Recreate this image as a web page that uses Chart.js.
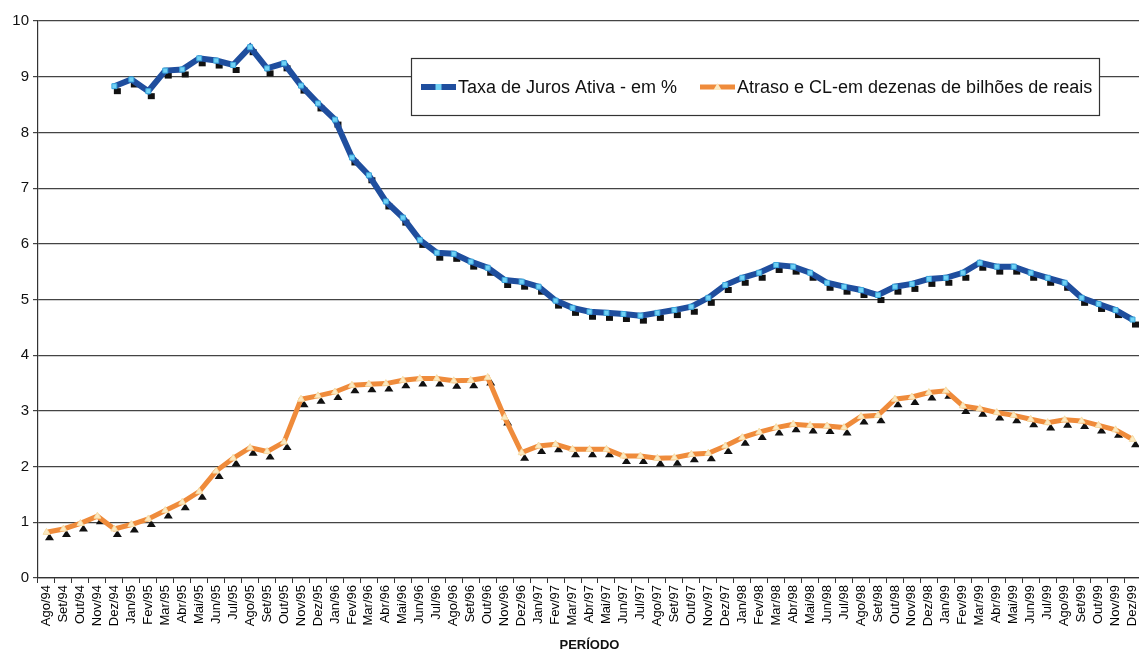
<!DOCTYPE html>
<html>
<head>
<meta charset="utf-8">
<script src="https://cdn.jsdelivr.net/npm/chart.js@4/dist/chart.umd.min.js"></script>
<style>
  html, body { margin: 0; padding: 0; background: #ffffff; overflow: hidden; width: 1139px; height: 654px; }
  #c { display: block; }
</style>
</head>
<body>
<!-- the plot runs past the right edge of the page, which crops the last few pixels -->
<canvas id="c" width="1146" height="654"></canvas>
<script>
// Monthly periods, Aug/1994 to Dec/1999
const periodos = [
  'Ago/94','Set/94','Out/94','Nov/94','Dez/94',
  'Jan/95','Fev/95','Mar/95','Abr/95','Mai/95','Jun/95','Jul/95','Ago/95','Set/95','Out/95','Nov/95','Dez/95',
  'Jan/96','Fev/96','Mar/96','Abr/96','Mai/96','Jun/96','Jul/96','Ago/96','Set/96','Out/96','Nov/96','Dez/96',
  'Jan/97','Fev/97','Mar/97','Abr/97','Mai/97','Jun/97','Jul/97','Ago/97','Set/97','Out/97','Nov/97','Dez/97',
  'Jan/98','Fev/98','Mar/98','Abr/98','Mai/98','Jun/98','Jul/98','Ago/98','Set/98','Out/98','Nov/98','Dez/98',
  'Jan/99','Fev/99','Mar/99','Abr/99','Mai/99','Jun/99','Jul/99','Ago/99','Set/99','Out/99','Nov/99','Dez/99'
];

// Taxa de juros ativa (% ao mês), series begins in Dez/94
const taxaJuros = [
  null, null, null, null, 8.83,
  8.95, 8.74, 9.11, 9.13, 9.33, 9.29, 9.21, 9.53, 9.15, 9.24, 8.84, 8.52,
  8.23, 7.55, 7.23, 6.76, 6.47, 6.07, 5.84, 5.82, 5.68, 5.57, 5.35, 5.32,
  5.23, 4.98, 4.85, 4.78, 4.76, 4.74, 4.71, 4.76, 4.81, 4.87, 5.03, 5.26,
  5.39, 5.48, 5.62, 5.59, 5.48, 5.30, 5.23, 5.17, 5.08, 5.23, 5.28, 5.37,
  5.39, 5.48, 5.66, 5.59, 5.59, 5.48, 5.39, 5.30, 5.03, 4.92, 4.81, 4.64
];

// Atraso e créditos em liquidação (dezenas de bilhões de reais)
const atrasoCL = [
  0.82, 0.88, 0.98, 1.11, 0.88,
  0.96, 1.06, 1.21, 1.36, 1.55, 1.92, 2.15, 2.34, 2.27, 2.44, 3.21, 3.27,
  3.34, 3.46, 3.48, 3.49, 3.55, 3.58, 3.58, 3.54, 3.55, 3.60, 2.88, 2.25,
  2.37, 2.40, 2.31, 2.31, 2.31, 2.19, 2.19, 2.15, 2.16, 2.22, 2.24, 2.37,
  2.52, 2.62, 2.70, 2.76, 2.74, 2.73, 2.70, 2.90, 2.92, 3.21, 3.25, 3.33,
  3.36, 3.09, 3.04, 2.97, 2.92, 2.85, 2.79, 2.84, 2.82, 2.74, 2.66, 2.49
];

const yTicks = [0, 1, 2, 3, 4, 5, 6, 7, 8, 9, 10];

const FONT = '"Liberation Sans", Arial, Helvetica, sans-serif';
const AZUL = '#1f4e9e';
const AZUL_MARCA = '#72d2f5';
const LARANJA = '#ef8b3b';
const LARANJA_MARCA = '#fbeac4';

// Dark drop shadows under each marker, drawn before the line itself
const sombraMarcadores = {
  id: 'sombraMarcadores',
  beforeDatasetDraw(chart, args) {
    const ds = chart.data.datasets[args.index];
    const ctx = chart.ctx;
    ctx.save();
    ctx.fillStyle = '#111111';
    args.meta.data.forEach((pt, i) => {
      if (ds.data[i] == null || pt.skip) return;
      const x = pt.x + 3, y = pt.y + 5;
      ctx.beginPath();
      if (ds.pointStyle === 'rect') {
        ctx.rect(x - 3.5, y - 3, 7, 6);
      } else {
        ctx.moveTo(x, y - 4);
        ctx.lineTo(x + 4.5, y + 3);
        ctx.lineTo(x - 4.5, y + 3);
        ctx.closePath();
      }
      ctx.fill();
    });
    ctx.restore();
  }
};

// Boxed legend inside the plot area
const legendaCaixa = {
  id: 'legendaCaixa',
  afterDraw(chart) {
    const ctx = chart.ctx;
    const box = { x: 411.5, y: 58.5, w: 688, h: 57 };
    ctx.save();
    ctx.fillStyle = '#ffffff';
    ctx.fillRect(box.x, box.y, box.w, box.h);
    ctx.strokeStyle = '#333333';
    ctx.lineWidth = 1.2;
    ctx.strokeRect(box.x, box.y, box.w, box.h);

    const yMid = 87;
    const itens = [
      { ds: chart.data.datasets[0], x0: 421, x1: 456, tx: 458 },
      { ds: chart.data.datasets[1], x0: 700, x1: 735, tx: 737 }
    ];
    ctx.font = '18px ' + FONT;
    ctx.textBaseline = 'middle';
    itens.forEach(it => {
      ctx.strokeStyle = it.ds.borderColor;
      ctx.lineWidth = it.ds.borderWidth;
      ctx.beginPath();
      ctx.moveTo(it.x0, yMid);
      ctx.lineTo(it.x1, yMid);
      ctx.stroke();
      const cx = (it.x0 + it.x1) / 2;
      ctx.fillStyle = it.ds.pointBackgroundColor;
      ctx.beginPath();
      if (it.ds.pointStyle === 'rect') {
        ctx.rect(cx - 3, yMid - 3, 6, 6);
      } else {
        ctx.moveTo(cx, yMid - 4);
        ctx.lineTo(cx + 4, yMid + 3);
        ctx.lineTo(cx - 4, yMid + 3);
        ctx.closePath();
      }
      ctx.fill();
      ctx.fillStyle = '#111111';
      ctx.fillText(it.ds.label, it.tx, yMid + 1);
    });
    ctx.restore();
  }
};

new Chart(document.getElementById('c'), {
  type: 'line',
  data: {
    labels: periodos,
    datasets: [
      {
        label: 'Taxa de Juros Ativa - em %',
        data: taxaJuros,
        borderColor: AZUL,
        borderWidth: 6,
        pointStyle: 'rect',
        pointRadius: 3.5,
        pointBackgroundColor: AZUL_MARCA,
        pointBorderColor: '#3aa6dc',
        pointBorderWidth: 1,
        tension: 0,
        spanGaps: false
      },
      {
        label: 'Atraso e CL-em dezenas de bilhões de reais',
        data: atrasoCL,
        borderColor: LARANJA,
        borderWidth: 5,
        pointStyle: 'triangle',
        pointRadius: 4,
        pointBackgroundColor: LARANJA_MARCA,
        pointBorderColor: '#f6dca6',
        pointBorderWidth: 1,
        tension: 0
      }
    ]
  },
  options: {
    responsive: false,
    animation: false,
    devicePixelRatio: 1,
    layout: { padding: { left: 0, top: 21, right: 0, bottom: 0 } },
    plugins: {
      legend: { display: false },
      tooltip: { enabled: false }
    },
    scales: {
      x: {
        type: 'category',
        offset: true,
        grid: {
          offset: true,
          drawOnChartArea: false,
          drawTicks: true,
          tickLength: 5,
          color: '#333333',
          lineWidth: 1
        },
        border: { display: true, color: '#333333', width: 1.2 },
        ticks: {
          autoSkip: false,
          minRotation: 90,
          maxRotation: 90,
          padding: 2,
          color: '#000000',
          font: { family: FONT, size: 13 }
        },
        title: {
          display: true,
          text: 'PERÍODO',
          color: '#111111',
          font: { family: FONT, size: 13, weight: 'bold' },
          padding: { top: 0, bottom: 1 }
        },
        afterFit(scale) {
          scale.height = 76;
          scale.paddingLeft = 0;
          scale.paddingRight = 0;
        }
      },
      y: {
        min: 0,
        max: 10,
        afterBuildTicks(scale) { scale.ticks = yTicks.map(v => ({ value: v })); },
        grid: {
          color: '#444444',
          lineWidth: 1.2,
          drawTicks: true,
          tickLength: 5
        },
        border: { display: true, color: '#333333', width: 1.2 },
        ticks: {
          padding: 4,
          color: '#111111',
          font: { family: FONT, size: 15 }
        },
        afterFit(scale) { scale.width = 38; }
      }
    }
  },
  plugins: [sombraMarcadores, legendaCaixa]
});
</script>
</body>
</html>
